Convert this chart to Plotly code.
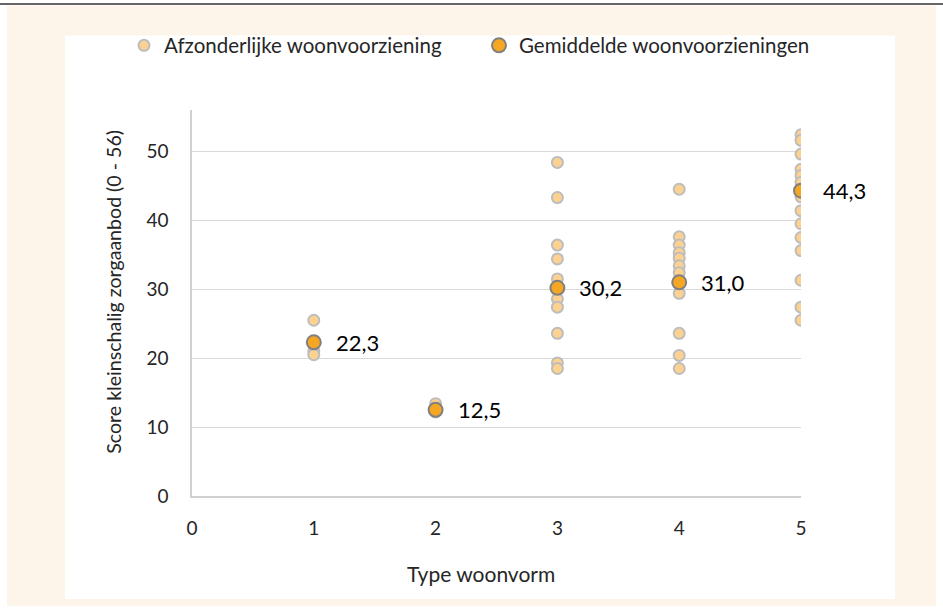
import plotly.graph_objects as go

# ---- data ----
type_ids = [1, 2, 3, 4, 5]
scores_type1 = [25.5, 21.0, 20.5]
scores_type2 = [13.4, 12.6, 12.2]
scores_type3 = [48.4, 43.3, 36.4, 34.4, 31.5, 30.3, 28.6, 27.4, 23.6, 19.3, 18.5]
scores_type4 = [44.5, 37.6, 36.4, 35.3, 34.5, 33.4, 32.4, 29.4, 23.6, 20.4, 18.5]
scores_type5 = [52.4, 51.6, 49.6, 47.4, 46.5, 45.5, 43.4, 41.4, 39.5, 37.5, 35.6, 31.3, 27.4, 25.5]
mean_scores = [22.3, 12.5, 30.2, 31.0, 44.3]
mean_labels = ["22,3", "12,5", "30,2", "31,0", "44,3"]
x_ticks = [0, 1, 2, 3, 4, 5]
y_ticks = [0, 10, 20, 30, 40, 50]

all_scores = [scores_type1, scores_type2, scores_type3, scores_type4, scores_type5]
ind_x = [t for t, s in zip(type_ids, all_scores) for _ in s]
ind_y = [v for s in all_scores for v in s]

# ---- layout geometry (pixels) ----
W, H = 943, 612
L, R, T, B = 192, 801, 110.4, 496
pw, ph = R - L, B - T

def px(x):
    return (x - L) / pw

def py(y):
    return 1 - (y - T) / ph

FONT = "Lato"
TXT = "#262626"

fig = go.Figure()
fig.add_trace(go.Scatter(
    x=ind_x, y=ind_y, mode="markers", name="Afzonderlijke woonvoorziening",
    marker=dict(size=11, color="#FDD291", line=dict(color="#BDBDBD", width=2)),
))
fig.add_trace(go.Scatter(
    x=type_ids, y=mean_scores, mode="markers", name="Gemiddelde woonvoorzieningen",
    marker=dict(size=14, color="#F5A623", line=dict(color="#808080", width=2)),
))

annotations = []
for t, m, lab in zip(type_ids, mean_scores, mean_labels):
    annotations.append(dict(x=t, y=m, xref="x", yref="y", text=lab, showarrow=False,
                            xanchor="left", yanchor="middle", xshift=20,
                            font=dict(family=FONT, size=22, color="#000000")))

annotations.append(dict(x=px(481), y=py(573), xref="paper", yref="paper",
                        text="Type woonvorm", showarrow=False,
                        xanchor="center", yanchor="middle",
                        font=dict(family=FONT, size=21, color=TXT)))
annotations.append(dict(x=px(114), y=py(292), xref="paper", yref="paper",
                        text="Score kleinschalig zorgaanbod (0 - 56)", showarrow=False,
                        textangle=-90, xanchor="center", yanchor="middle",
                        font=dict(family=FONT, size=19.6, color=TXT)))

shapes = [
    dict(type="rect", xref="paper", yref="paper", x0=px(7), x1=px(936), y0=py(606), y1=py(6),
         fillcolor="#FEF5EA", line=dict(width=0), layer="below"),
    dict(type="rect", xref="paper", yref="paper", x0=px(65), x1=px(895), y0=py(599), y1=py(36),
         fillcolor="#FFFFFF", line=dict(width=0), layer="below"),
    dict(type="line", xref="paper", yref="paper", x0=px(0), x1=px(943), y0=py(4.5), y1=py(4.5),
         line=dict(color="#333333", width=1.5), layer="below"),
]

fig.update_layout(
    width=W, height=H,
    margin=dict(l=L, r=W - R, t=T, b=H - B, autoexpand=False),
    paper_bgcolor="#FFFFFF", plot_bgcolor="rgba(0,0,0,0)",
    font=dict(family=FONT, size=19, color=TXT),
    showlegend=True,
    legend=dict(orientation="h", x=px(124), y=py(46), xanchor="left", yanchor="middle",
                font=dict(family=FONT, size=20.5, color=TXT), bgcolor="rgba(0,0,0,0)",
                entrywidth=310, entrywidthmode="pixels",
                itemclick=False, itemdoubleclick=False),
    xaxis=dict(range=[0, 5], tickvals=x_ticks, ticktext=[str(v) for v in x_ticks],
               showgrid=False, zeroline=False, showline=True, linecolor="#D0D0D0", linewidth=1.5,
               ticks="", ticklabelstandoff=14, tickfont=dict(family=FONT, size=19, color=TXT)),
    yaxis=dict(range=[0, 56], tickvals=y_ticks, ticktext=[str(v) for v in y_ticks],
               showgrid=True, gridcolor="#D9D9D9", gridwidth=1.2, zeroline=False,
               showline=True, linecolor="#D0D0D0", linewidth=1.5,
               ticks="", ticklabelstandoff=18, tickfont=dict(family=FONT, size=19, color=TXT)),
    annotations=annotations, shapes=shapes,
)

fig.write_html("out.html", config={"displayModeBar": False},
               post_script="document.body.style.margin='0';")
